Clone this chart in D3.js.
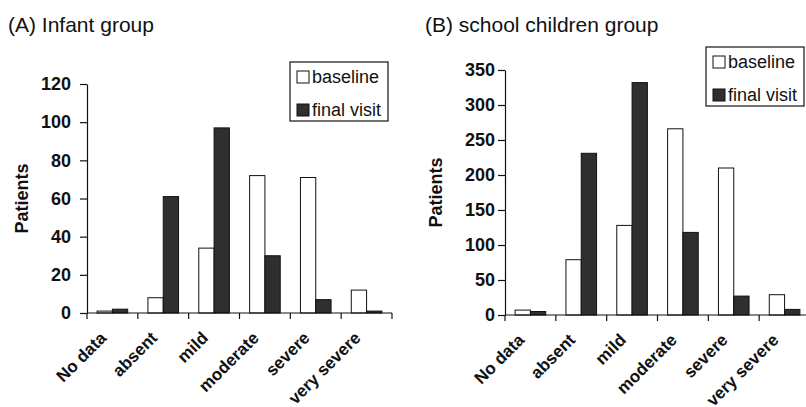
<!DOCTYPE html>
<html>
<head>
<meta charset="utf-8">
<script src="https://cdn.jsdelivr.net/npm/d3@7"></script>
<style>
  html, body { margin: 0; padding: 0; background: #fff; }
  svg { display: block; }
  text { font-family: "Liberation Sans", Arial, Helvetica, sans-serif; fill: #111; }
</style>
</head>
<body>
<svg id="chart" width="806" height="407"></svg>
<script>
// ---- data ----
const categories = ["No data", "absent", "mild", "moderate", "severe", "very severe"];
const seriesNames = ["baseline", "final visit"];

const infantBaseline = [1, 8, 34, 72, 71, 12];
const infantFinal    = [2, 61, 97, 30, 7, 1];
const infantTicks    = [0, 20, 40, 60, 80, 100, 120];

const schoolBaseline = [7, 79, 128, 266, 210, 29];
const schoolFinal    = [5, 231, 332, 118, 27, 8];
const schoolTicks    = [0, 50, 100, 150, 200, 250, 300, 350];

const titles = ["(A) Infant group", "(B) school children group"];
const yLabel = "Patients";

// ---- drawing ----
const svg = d3.select("#chart");
const darkFill = "#2f2f2f";

function panel(opts) {
  const g = svg.append("g");
  const x = d3.scaleBand().domain(categories).range([opts.x0, opts.x1]).paddingInner(0).paddingOuter(0);
  const xs = d3.scaleBand().domain(seriesNames).range([0, x.bandwidth()]).paddingInner(0).paddingOuter(0.66);
  const y = d3.scaleLinear().domain([0, opts.yMax]).range([opts.y0, opts.yTop]);

  // title
  g.append("text").attr("x", opts.titleX).attr("y", 32)
    .attr("font-size", 21).text(opts.title);

  // bars
  const rows = categories.map((c, i) => ({cat: c, vals: [opts.base[i], opts.fin[i]]}));
  const grp = g.selectAll("g.cat").data(rows).join("g")
    .attr("transform", d => `translate(${x(d.cat)},0)`);
  grp.selectAll("rect").data(d => d.vals.map((v, j) => ({s: seriesNames[j], v})))
    .join("rect")
    .attr("x", d => xs(d.s))
    .attr("width", xs.bandwidth())
    .attr("y", d => y(d.v))
    .attr("height", d => y(0) - y(d.v))
    .attr("fill", d => d.s === "baseline" ? "#fff" : darkFill)
    .attr("stroke", "#111")
    .attr("stroke-width", 1);

  // y axis
  const ya = d3.axisLeft(y).tickValues(opts.ticks).tickSize(7).tickSizeOuter(0).tickPadding(opts.tickPad);
  const yg = g.append("g").attr("transform", `translate(${opts.x0},0)`).call(ya);
  yg.selectAll("text").attr("font-size", 18).attr("font-weight", "bold").attr("fill", "#111");
  yg.selectAll("line,path").attr("stroke", "#111").attr("stroke-width", 1.2);

  // x axis line + boundary ticks
  g.append("line").attr("x1", opts.x0).attr("x2", opts.x1)
    .attr("y1", y(0)).attr("y2", y(0)).attr("stroke", "#111").attr("stroke-width", 1.2);
  const bounds = categories.map(c => x(c)).concat([x.range()[1]]);
  g.selectAll("line.xt").data(bounds).join("line").attr("class", "xt")
    .attr("x1", d => d).attr("x2", d => d)
    .attr("y1", y(0)).attr("y2", y(0) + 6)
    .attr("stroke", "#111").attr("stroke-width", 1.2);

  // category labels
  g.selectAll("text.cat").data(categories).join("text").attr("class", "cat")
    .attr("transform", d => `translate(${x(d) + x.bandwidth() / 2 - 5},${opts.y0 + 26}) rotate(-45)`)
    .attr("text-anchor", "end")
    .attr("font-size", 17).attr("font-weight", "bold")
    .text(d => d);

  // y label
  g.append("text")
    .attr("transform", `translate(${opts.yLabelX},${(opts.y0 + opts.yTop) / 2}) rotate(-90)`)
    .attr("text-anchor", "middle")
    .attr("font-size", 18).attr("font-weight", "bold")
    .text(yLabel);

  // legend
  const lg = g.append("g").attr("transform", `translate(${opts.legX},${opts.legY})`);
  lg.append("rect").attr("x", 0).attr("y", 0).attr("width", 98).attr("height", 59)
    .attr("fill", "#fff").attr("stroke", "#111").attr("stroke-width", 1.2);
  seriesNames.forEach((s, i) => {
    lg.append("rect").attr("x", 7).attr("y", 9 + i * 33).attr("width", 12).attr("height", 12)
      .attr("fill", s === "baseline" ? "#fff" : darkFill)
      .attr("stroke", "#111").attr("stroke-width", 1);
    lg.append("text").attr("x", 22).attr("y", 21 + i * 33)
      .attr("font-size", 18).text(s);
  });
}

panel({
  title: titles[0], titleX: 8,
  x0: 87, x1: 392, y0: 313, yTop: 84, yMax: 120,
  base: infantBaseline, fin: infantFinal, ticks: infantTicks, tickPad: 9,
  yLabelX: 28, legX: 290, legY: 62
});
panel({
  title: titles[1], titleX: 425,
  x0: 505, x1: 810, y0: 315, yTop: 70, yMax: 350,
  base: schoolBaseline, fin: schoolFinal, ticks: schoolTicks, tickPad: 3,
  yLabelX: 442, legX: 706, legY: 47
});
</script>
</body>
</html>
